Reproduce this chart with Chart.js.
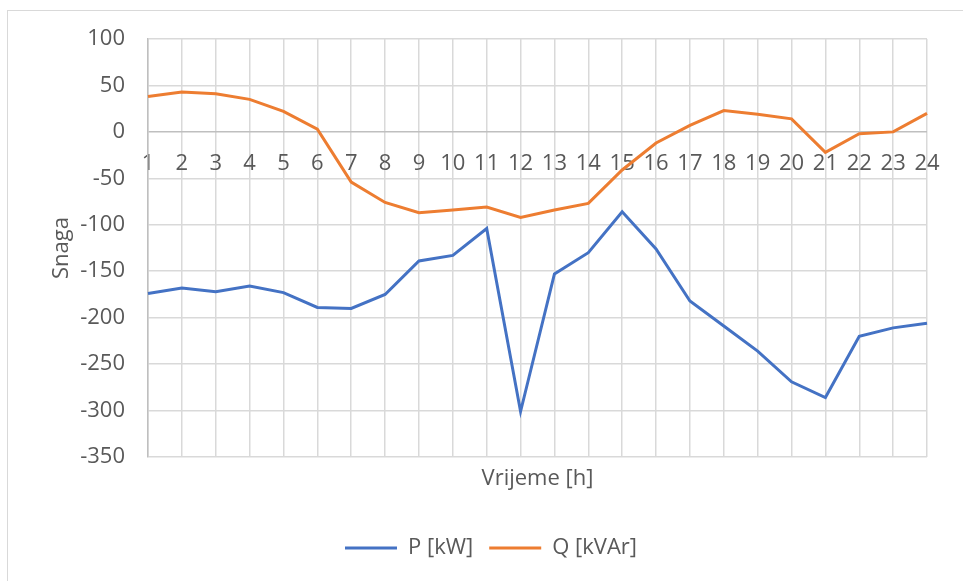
<!DOCTYPE html>
<html>
<head>
<meta charset="utf-8">
<style>
  html, body { margin: 0; padding: 0; background: #fff; }
  #wrap { width: 963px; height: 581px; }
</style>
<script src="https://cdn.jsdelivr.net/npm/chart.js@4/dist/chart.umd.min.js"></script>
</head>
<body>
<div id="wrap"><canvas id="powerChart" width="963" height="581"></canvas></div>
<script>
// hours on the x axis
const hours = ['1', '2', '3', '4', '5', '6', '7', '8', '9', '10', '11', '12',
               '13', '14', '15', '16', '17', '18', '19', '20', '21', '22', '23', '24'];
// active power P [kW]
const activePower = [-174, -168, -172, -166, -173, -189, -190, -175, -139, -133, -104, -301,
                     -153, -130, -86, -126, -182, -209, -236, -269, -286, -220, -211, -206];
// reactive power Q [kVAr]
const reactivePower = [38, 43, 41, 35, 22, 3, -54, -76, -87, -84, -81, -92,
                       -84, -77, -41, -12, 7, 23, 19, 14, -22, -2, 0, 20];
const yMin = -350;
const yMax = 100;
const yStep = 50;

const textColor = '#595959';
const gridColor = '#d9d9d9';
const axisColor = '#bfbfbf';
const baseFont = { family: "'Open Sans', 'Liberation Sans', sans-serif", size: 22 };

// thin grey frame round the chart, like the office chart border
const frame = {
    id: 'frame',
    beforeDraw(chart) {
        const ctx = chart.ctx;
        ctx.save();
        ctx.strokeStyle = gridColor;
        ctx.lineWidth = 1;
        ctx.strokeRect(7.5, 10.5, 2000, 2000);
        ctx.restore();
    }
};

new Chart(document.getElementById('powerChart').getContext('2d'), {
    type: 'line',
    data: {
        labels: hours,
        datasets: [
            {
                label: 'P [kW]',
                data: activePower,
                borderColor: '#4472c4',
                backgroundColor: '#4472c4',
                borderWidth: 3,
                pointRadius: 0,
                tension: 0,
                fill: false
            },
            {
                label: 'Q [kVAr]',
                data: reactivePower,
                borderColor: '#ed7d31',
                backgroundColor: '#ed7d31',
                borderWidth: 3,
                pointRadius: 0,
                tension: 0,
                fill: false
            }
        ]
    },
    options: {
        responsive: false,
        animation: false,
        layout: { padding: { left: 55, top: 39, right: 36, bottom: 12 } },
        plugins: {
            tooltip: { enabled: false },
            legend: {
                position: 'bottom',
                labels: {
                    color: textColor,
                    font: baseFont,
                    usePointStyle: true,
                    pointStyle: 'line',
                    pointStyleWidth: 52,
                    padding: 16
                }
            }
        },
        scales: {
            x: {
                type: 'category',
                offset: false,
                grid: { color: gridColor, lineWidth: 1.5, drawTicks: false },
                border: { display: false },
                ticks: { display: false },
                title: {
                    display: true,
                    text: 'Vrijeme [h]',
                    color: textColor,
                    font: baseFont,
                    padding: { top: 0, bottom: 29 }
                },
                afterFit(axis) { axis.height = 64; }
            },
            hourLabels: {
                type: 'category',
                axis: 'x',
                position: { y: 0 },
                offset: false,
                grid: { display: false, drawTicks: false },
                border: { display: false },
                ticks: {
                    color: textColor,
                    font: baseFont,
                    padding: 19,
                    autoSkip: false,
                    maxRotation: 0
                }
            },
            y: {
                min: yMin,
                max: yMax,
                grid: {
                    drawTicks: false,
                    lineWidth: 1.5,
                    color: (c) => (c.tick && c.tick.value === 0 ? axisColor : gridColor)
                },
                border: { color: axisColor, width: 1.5 },
                ticks: {
                    stepSize: yStep,
                    color: textColor,
                    font: baseFont,
                    padding: 23
                },
                title: {
                    display: true,
                    text: 'Snaga',
                    color: textColor,
                    font: baseFont,
                    padding: { top: -6, bottom: 0 }
                },
                afterFit(axis) { axis.width = 93; }
            }
        }
    },
    plugins: [frame]
});
</script>
</body>
</html>
